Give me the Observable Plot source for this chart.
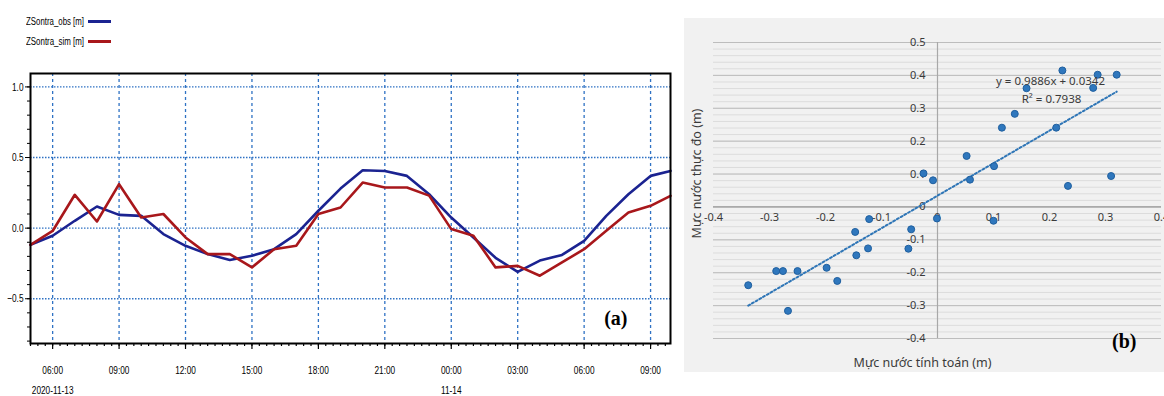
<!DOCTYPE html>
<html><head><meta charset="utf-8">
<script src="https://cdn.jsdelivr.net/npm/d3@7"></script>
<script src="https://cdn.jsdelivr.net/npm/@observablehq/plot@0.6"></script>
<style>
html,body{margin:0;padding:0;background:#fff;width:1164px;height:396px;overflow:hidden;position:relative}
#a{position:absolute;left:0;top:0}
#b{position:absolute;left:684px;top:18px}
.legt{position:absolute;left:26px;font-family:"Liberation Sans",Arial,sans-serif;font-size:10px;line-height:12px;color:#000;white-space:nowrap;transform-origin:0 50%}
.sw{position:absolute;left:88px;width:23px;height:3px}
</style></head><body>
<div id="a"></div><div id="b"></div>
<div id="legend"></div>
<script>
// ---------- Panel (a): time series ----------
const times = ["2020-11-13T05:00","2020-11-13T06:00","2020-11-13T07:00","2020-11-13T08:00","2020-11-13T09:00",
  "2020-11-13T10:00","2020-11-13T11:00","2020-11-13T12:00","2020-11-13T13:00","2020-11-13T14:00",
  "2020-11-13T15:00","2020-11-13T16:00","2020-11-13T17:00","2020-11-13T18:00","2020-11-13T19:00",
  "2020-11-13T20:00","2020-11-13T21:00","2020-11-13T22:00","2020-11-13T23:00","2020-11-14T00:00",
  "2020-11-14T01:00","2020-11-14T02:00","2020-11-14T03:00","2020-11-14T04:00","2020-11-14T05:00",
  "2020-11-14T06:00","2020-11-14T07:00","2020-11-14T08:00","2020-11-14T09:00","2020-11-14T09:54"];
const obs = [-0.118,-0.054,0.052,0.153,0.094,0.087,-0.042,-0.125,-0.184,-0.226,-0.196,-0.149,-0.042,0.123,0.28,
  0.41,0.405,0.37,0.24,0.075,-0.066,-0.21,-0.31,-0.23,-0.19,-0.09,0.087,0.24,0.37,0.405];
const sim = [-0.118,-0.02,0.236,0.047,0.311,0.075,0.10,-0.066,-0.184,-0.184,-0.278,-0.149,-0.125,0.10,0.146,
  0.323,0.288,0.288,0.23,-0.007,-0.054,-0.278,-0.267,-0.337,-0.243,-0.149,-0.019,0.11,0.158,0.229];
const seriesNames = ["ZSontra_obs [m]","ZSontra_sim [m]"];
const yTicksA = [-0.5, 0, 0.5, 1.0];
const yMinorA = [-0.8,-0.7,-0.6,-0.5,-0.4,-0.3,-0.2,-0.1,0,0.1,0.2,0.3,0.4,0.5,0.6,0.7,0.8,0.9,1.0];
const dateLabels = ["2020-11-13","11-14"];

const colObs = "#1b2391", colSim = "#a8171b";

// legend (HTML, above the chart)
const legend = document.getElementById("legend");
[[seriesNames[0], colObs, 21.5], [seriesNames[1], colSim, 41.5]].forEach(([name, col, cy]) => {
  const t = document.createElement("div");
  t.className = "legt"; t.textContent = name; t.style.top = (cy - 6) + "px";
  legend.append(t);
  const w = t.getBoundingClientRect().width;
  t.style.transform = `scaleX(${58 / w})`;
  const s = document.createElement("div");
  s.className = "sw"; s.style.background = col; s.style.top = (cy - 1.5) + "px";
  legend.append(s);
});

const parse = s => new Date(s + ":00Z");
const ts = times.map((t, i) => ({t: parse(t), obs: obs[i], sim: sim[i]}));
const x0 = ts[0].t, x1 = ts[ts.length - 1].t;
const major = d3.utcHour.every(3).range(parse("2020-11-13T06:00"), x1);
const minor = d3.utcMinute.every(20).range(x0, x1);
const dateTicks = [parse("2020-11-13T06:00"), parse("2020-11-14T00:00")];
const fontA = `"Liberation Sans",Arial,sans-serif`;
const gridCol = "#2f72c4";

const plotA = Plot.plot({
  width: 680, height: 396, marginLeft: 30, marginRight: 10, marginTop: 73, marginBottom: 53,
  style: {fontFamily: fontA, fontSize: "11.5px", color: "#000", background: "#fff"},
  x: {type: "utc", domain: [x0, x1], label: null},
  y: {domain: [-0.817, 1.095], label: null},
  marks: [
    Plot.gridY(yTicksA, {stroke: gridCol, strokeOpacity: 1, strokeWidth: 1.3, strokeDasharray: "1.5,1.5"}),
    Plot.gridX(major, {stroke: gridCol, strokeOpacity: 1, strokeWidth: 1.3, strokeDasharray: "3,3"}),
    Plot.line(ts, {x: "t", y: "obs", stroke: colObs, strokeWidth: 2.6}),
    Plot.line(ts, {x: "t", y: "sim", stroke: colSim, strokeWidth: 2.6}),
    Plot.frame({stroke: "#000", strokeWidth: 2}),
    Plot.axisX(minor, {tickSize: 3, tickFormat: () => "", label: null, strokeWidth: 1.2}),
    Plot.axisX(major, {tickSize: 6, tickPadding: 16, tickFormat: d3.utcFormat("%H:%M"), label: null, strokeWidth: 1.2}),
    Plot.axisX(dateTicks, {tickSize: 0, tickPadding: 42, tickFormat: d => d.getUTCDate() === 13 ? dateLabels[0] : dateLabels[1], label: null}),
    Plot.axisY(yMinorA, {tickSize: 3, tickFormat: () => "", label: null}),
    Plot.axisY(yTicksA, {tickSize: 5, tickPadding: 2, tickFormat: d3.format(".1f"), label: null}),
    Plot.text(["(a)"], {frameAnchor: "bottom-right", dx: -43, dy: -19, fontFamily: "Liberation Serif", fontWeight: "bold", fontSize: 20, fill: "#000"})
  ]
});
// condense the axis tick labels like the reference's narrow font
plotA.querySelectorAll("text").forEach(el => {
  if (el.textContent === "(a)") return;
  const tr = el.getAttribute("transform");
  if (tr) el.setAttribute("transform", tr + " scale(0.72,1)");
});
document.getElementById("a").append(plotA);

// ---------- Panel (b): scatter ----------
const sx = [-0.338,-0.288,-0.276,-0.250,-0.267,-0.198,-0.179,-0.147,-0.145,-0.122,-0.124,-0.052,-0.047,-0.025,
  -0.008,-0.001,0.052,0.058,0.101,0.100,0.115,0.138,0.159,0.212,0.223,0.233,0.278,0.286,0.310,0.320];
const sy = [-0.238,-0.195,-0.195,-0.195,-0.316,-0.185,-0.225,-0.076,-0.147,-0.037,-0.126,-0.127,-0.068,0.102,
  0.081,-0.035,0.155,0.083,0.124,-0.042,0.241,0.283,0.361,0.241,0.415,0.064,0.362,0.402,0.094,0.402];
const slope = 0.9886, intercept = 0.0342, r2 = 0.7938;
const xTitle = "Mực nước tính toán (m)", yTitle = "Mực nước thực đo (m)";
const xTicksB = [-0.4,-0.3,-0.2,-0.1,0,0.1,0.2,0.3,0.4];
const yTicksB = [-0.4,-0.3,-0.2,-0.1,0,0.1,0.2,0.3,0.4,0.5];
const yMinorB = d3.range(-20, 26).map(k => k / 50);

const pts = sx.map((x, i) => ({x, y: sy[i]}));
const trend = d3.extent(sx).map(x => ({x, y: slope * x + intercept}));
const fontB = `"Noto Sans","Open Sans",sans-serif`;
const txtB = "#3a3a3a";

const plotB = Plot.plot({
  width: 480, height: 354, marginLeft: 29, marginRight: 3, marginTop: 24, marginBottom: 34,
  style: {fontFamily: fontB, fontSize: "11px", color: txtB, background: "#f1f1f1"},
  x: {domain: [-0.4, 0.4], axis: null},
  y: {domain: [-0.4, 0.5], axis: null},
  marks: [
    Plot.ruleY(yMinorB, {stroke: "#dcdcdc", strokeWidth: 1}),
    Plot.ruleY(yTicksB, {stroke: "#bdbdbd", strokeWidth: 1}),
    Plot.ruleY([0], {stroke: "#9e9e9e", strokeWidth: 1.2}),
    Plot.ruleX([0], {stroke: "#a8a8a8", strokeWidth: 1.2}),
    Plot.text(yTicksB, {x: 0, y: d => d, text: d => String(d), textAnchor: "end", dx: -12, fill: txtB}),
    Plot.text(xTicksB, {x: d => d, y: 0, text: d => String(d), dy: 11, fill: txtB}),
    Plot.line(trend, {x: "x", y: "y", stroke: "#2e75b6", strokeWidth: 2, strokeDasharray: "2,2.3"}),
    Plot.dot(pts, {x: "x", y: "y", r: 3.5, fill: "#2f77bd", stroke: "#1f5f9f", strokeWidth: 1}),
    Plot.text([`y = ${slope}x + ${intercept}`], {frameAnchor: "top", dx: 113, dy: 34, fontSize: 11.5, fill: txtB}),
    Plot.text([`R² = ${r2}`], {frameAnchor: "top", dx: 114, dy: 52, fontSize: 11.5, fill: txtB}),
    Plot.text([yTitle], {frameAnchor: "left", rotate: -90, textAnchor: "middle", dx: -17, dy: -17, fontSize: 12.5, fill: txtB}),
    Plot.text([xTitle], {frameAnchor: "bottom", dx: -15, dy: 28, fontSize: 12.5, fill: txtB}),
    Plot.text(["(b)"], {frameAnchor: "bottom-right", dx: -25, dy: 9, fontFamily: "Liberation Serif", fontWeight: "bold", fontSize: 20, fill: "#000"})
  ]
});
document.getElementById("b").append(plotB);
</script>
</body></html>
